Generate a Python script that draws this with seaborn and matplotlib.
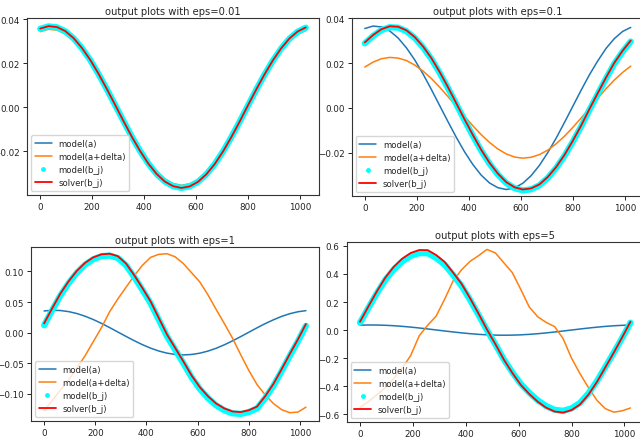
import matplotlib
matplotlib.use("Agg")
import matplotlib.pyplot as plt
from matplotlib.lines import Line2D
from matplotlib.ticker import MultipleLocator
import seaborn as sns

# sample positions (index along the output signal)
x = [0, 32, 64, 96, 128, 160, 192, 224, 256, 288, 320, 352, 384, 416, 448, 480, 512,
     544, 576, 608, 640, 672, 704, 736, 768, 800, 832, 864, 896, 928, 960, 992, 1023]

# model(a) is the same curve in every panel
model_a = [0.0354, 0.0365, 0.0361, 0.0343, 0.0312, 0.0268, 0.0214, 0.0151, 0.0082, 0.0010,
           -0.0062, -0.0132, -0.0197, -0.0254, -0.0301, -0.0336, -0.0357, -0.0365, -0.0358,
           -0.0337, -0.0303, -0.0257, -0.0200, -0.0136, -0.0066, 0.0006, 0.0078, 0.0147,
           0.0209, 0.0265, 0.0309, 0.0341, 0.0359]

# eps = 0.01
delta_001 = [0.0343, 0.0354, 0.0350, 0.0333, 0.0303, 0.0260, 0.0208, 0.0146, 0.0080, 0.0010,
             -0.0060, -0.0128, -0.0191, -0.0246, -0.0292, -0.0326, -0.0346, -0.0354, -0.0347,
             -0.0327, -0.0294, -0.0249, -0.0194, -0.0132, -0.0064, 0.0006, 0.0076, 0.0143,
             0.0203, 0.0257, 0.0300, 0.0331, 0.0348]
bj_001 = [0.0356, 0.0367, 0.0363, 0.0345, 0.0313, 0.0269, 0.0215, 0.0152, 0.0083, 0.0011,
          -0.0061, -0.0132, -0.0197, -0.0255, -0.0302, -0.0337, -0.0358, -0.0366, -0.0359,
          -0.0338, -0.0304, -0.0258, -0.0201, -0.0136, -0.0066, 0.0007, 0.0079, 0.0148,
          0.0211, 0.0266, 0.0311, 0.0343, 0.0361]
solver_001 = [0.0357, 0.0368, 0.0364, 0.0346, 0.0314, 0.0270, 0.0216, 0.0153, 0.0084, 0.0012,
              -0.0061, -0.0132, -0.0197, -0.0255, -0.0302, -0.0337, -0.0358, -0.0366, -0.0359,
              -0.0338, -0.0304, -0.0258, -0.0201, -0.0136, -0.0066, 0.0008, 0.0080, 0.0149,
              0.0212, 0.0267, 0.0312, 0.0344, 0.0362]

# eps = 0.1
delta_01 = [0.0182, 0.0204, 0.0219, 0.0225, 0.0222, 0.0211, 0.0191, 0.0164, 0.0131, 0.0092,
            0.0050, 0.0006, -0.0038, -0.0081, -0.0120, -0.0155, -0.0184, -0.0206, -0.0220,
            -0.0225, -0.0221, -0.0209, -0.0189, -0.0161, -0.0127, -0.0088, -0.0046, -0.0002,
            0.0042, 0.0085, 0.0124, 0.0158, 0.0186]
bj_01 = [0.0288, 0.0321, 0.0347, 0.0360, 0.0358, 0.0342, 0.0312, 0.0270, 0.0218, 0.0156,
         0.0088, 0.0016, -0.0056, -0.0126, -0.0192, -0.0250, -0.0298, -0.0336, -0.0359,
         -0.0369, -0.0364, -0.0346, -0.0313, -0.0269, -0.0215, -0.0152, -0.0084, -0.0010,
         0.0061, 0.0131, 0.0197, 0.0251, 0.0296]
solver_01 = [0.0292, 0.0325, 0.0351, 0.0364, 0.0362, 0.0346, 0.0316, 0.0274, 0.0222, 0.0160,
             0.0092, 0.0020, -0.0052, -0.0122, -0.0188, -0.0246, -0.0294, -0.0332, -0.0355,
             -0.0365, -0.0360, -0.0342, -0.0309, -0.0265, -0.0211, -0.0148, -0.0080, -0.0006,
             0.0065, 0.0135, 0.0201, 0.0255, 0.0300]

# eps = 1
delta_1 = [-0.128, -0.111, -0.094, -0.077, -0.058, -0.038, -0.015, 0.008, 0.034, 0.055, 0.074,
           0.093, 0.110, 0.123, 0.128, 0.129, 0.124, 0.113, 0.098, 0.083, 0.062, 0.038, 0.015,
           -0.009, -0.036, -0.062, -0.085, -0.102, -0.116, -0.126, -0.131, -0.130, -0.122]
bj_1 = [0.012, 0.037, 0.061, 0.081, 0.098, 0.111, 0.120, 0.125, 0.126, 0.122, 0.110, 0.091,
        0.070, 0.048, 0.021, -0.006, -0.028, -0.050, -0.073, -0.092, -0.107, -0.119, -0.127,
        -0.132, -0.133, -0.130, -0.124, -0.107, -0.087, -0.063, -0.038, -0.014, 0.011]
solver_1 = [0.015, 0.040, 0.064, 0.084, 0.101, 0.114, 0.123, 0.128, 0.129, 0.125, 0.113, 0.094,
            0.073, 0.051, 0.024, -0.003, -0.025, -0.047, -0.070, -0.089, -0.104, -0.116, -0.124,
            -0.129, -0.130, -0.127, -0.121, -0.104, -0.084, -0.060, -0.035, -0.011, 0.014]

# eps = 5
delta_5 = [-0.55, -0.51, -0.46, -0.41, -0.345, -0.27, -0.18, -0.04, 0.035, 0.10, 0.22, 0.35,
           0.43, 0.49, 0.53, 0.575, 0.55, 0.48, 0.41, 0.29, 0.165, 0.095, 0.055, 0.025, -0.06,
           -0.20, -0.31, -0.41, -0.50, -0.56, -0.585, -0.575, -0.555]
bj_5 = [0.053, 0.160, 0.264, 0.359, 0.433, 0.490, 0.529, 0.549, 0.548, 0.514, 0.466, 0.393,
        0.315, 0.216, 0.109, 0.000, -0.102, -0.209, -0.301, -0.383, -0.446, -0.500, -0.541,
        -0.568, -0.575, -0.558, -0.519, -0.451, -0.364, -0.262, -0.160, -0.054, 0.053]
solver_5 = [0.060, 0.170, 0.277, 0.375, 0.452, 0.510, 0.550, 0.571, 0.570, 0.535, 0.486, 0.410,
            0.330, 0.228, 0.118, 0.005, -0.100, -0.210, -0.305, -0.390, -0.455, -0.510, -0.553,
            -0.580, -0.588, -0.570, -0.530, -0.460, -0.370, -0.265, -0.160, -0.050, 0.060]

panels = [
    ("output plots with eps=0.01", delta_001, bj_001, solver_001),
    ("output plots with eps=0.1", delta_01, bj_01, solver_01),
    ("output plots with eps=1", delta_1, bj_1, solver_1),
    ("output plots with eps=5", delta_5, bj_5, solver_5),
]

# axes boxes in pixels (left, top, right, bottom), y tick step and y range
boxes = [(27, 19, 319, 196, 0.02, (-0.0398, 0.0405)),
         (351.5, 19, 644, 197, 0.02, (-0.0394, 0.0401)),
         (31, 248, 319, 422, 0.05, (-0.1446, 0.140)),
         (346.5, 243, 644, 423, 0.2, (-0.655, 0.628))]

sns.set_style("ticks")
plt.rcParams['font.family'] = ['DejaVu Sans']
plt.rcParams.update({'xtick.labelsize': 6.3, 'ytick.labelsize': 6.3,
                     'xtick.color': '#222222', 'ytick.color': '#222222',
                     'axes.edgecolor': '#333333', 'axes.linewidth': 0.8})

W, H = 640, 439
fig = plt.figure(figsize=(W / 100, H / 100), dpi=100)

blue, orange = '#1f77b4', '#ff7f0e'
for (title, delta, bj, solver), (l, t, r, b, step, ylim) in zip(panels, boxes):
    ax = fig.add_axes([l / W, 1 - b / H, (r - l) / W, (b - t) / H])
    sns.lineplot(x=x, y=model_a, ax=ax, color=blue, linewidth=1.1)
    sns.lineplot(x=x, y=delta, ax=ax, color=orange, linewidth=1.1)
    sns.lineplot(x=x, y=bj, ax=ax, color='cyan', linewidth=4.5, solid_capstyle='round')
    sns.lineplot(x=x, y=solver, ax=ax, color='red', linewidth=1.3)
    ax.yaxis.set_major_locator(MultipleLocator(step))
    ax.set_ylim(*ylim)
    ax.set_title(title, fontsize=7.2, pad=3)
    ax.tick_params(length=3, width=0.7, pad=2)
    handles = [Line2D([], [], color=blue, lw=1.1),
               Line2D([], [], color=orange, lw=1.1),
               Line2D([], [], color='cyan', marker='o', markersize=2.5, linestyle='none'),
               Line2D([], [], color='red', lw=1.3)]
    ax.legend(handles, ['model(a)', 'model(a+delta)', 'model(b_j)', 'solver(b_j)'],
              loc='lower left', fontsize=6.1, framealpha=0.8)

plt.savefig('out.png', dpi=100)
plt.close()
